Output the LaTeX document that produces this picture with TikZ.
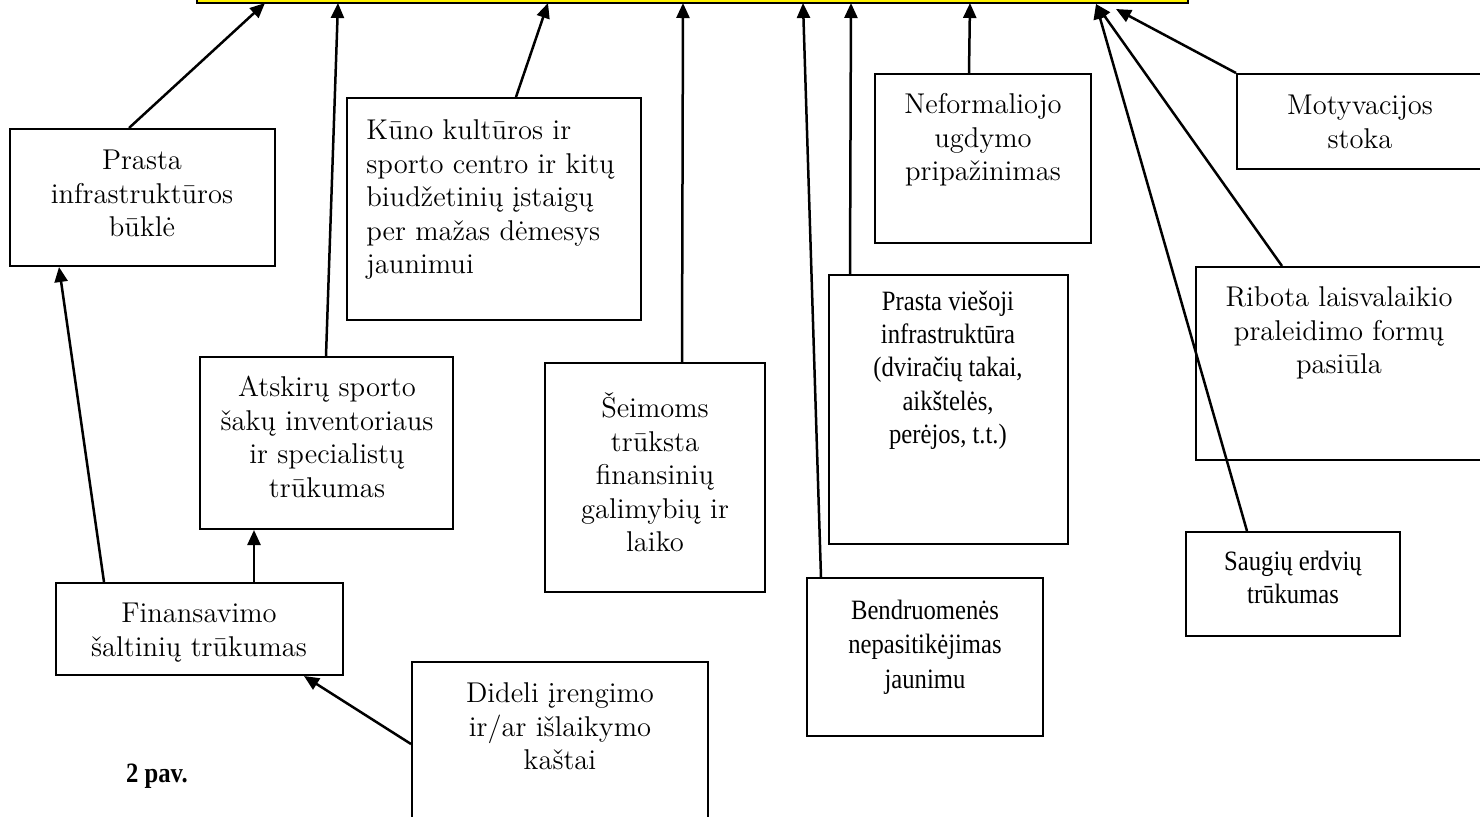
\documentclass[tikz,border=0pt]{standalone}
\usepackage{fontspec}
\newfontfamily\tnr[FakeStretch=0.88]{Liberation Serif}
\usetikzlibrary{arrows.meta,fit,calc}
\newcommand\mystr{\rule{0pt}{14pt}}
\begin{document}
\begin{tikzpicture}[x=0.5pt,y=-0.5pt,
  box/.style={draw,line width=1pt,inner sep=0pt},
  conn/.style={line width=1.25pt,-{Triangle[length=7.5pt,width=6.5pt]}},
  cam/.style={inner sep=0pt,align=center,font=\fontsize{14.3}{16.8}\selectfont},
  tim/.style={inner sep=0pt,align=center,font=\tnr\fontsize{14}{16.6}\selectfont}]
\clip (0,0) rectangle (1480,816);
\fill[white] (0,0) rectangle (1480,816);
% top bar
\node[box,fill=yellow,fit={(197,-20)(1188,3)}] (bar) {};
% boxes
\node[box,fit={(10,129)(275,266)}] (infra) {};
\node[box,fit={(347,98)(641,320)}] (kuno) {};
\node[box,fit={(875,74)(1091,243)}] (nef) {};
\node[box,fit={(1237,74)(1500,169)}] (mot) {};
\node[box,fit={(200,357)(453,529)}] (atsk) {};
\node[box,fit={(545,363)(765,592)}] (seim) {};
\node[box,fit={(829,275)(1068,544)}] (prv) {};
\node[box,fit={(1196,267)(1500,460)}] (rib) {};
\node[box,fit={(1186,532)(1400,636)}] (saug) {};
\node[box,fit={(807,578)(1043,736)}] (bend) {};
\node[box,fit={(56,583)(343,675)}] (fin) {};
\node[box,fit={(412,662)(708,840)}] (did) {};
% texts
\node[cam,anchor=north] (infraT) at (142,141) {\mystr Prasta\\infrastruktūros\\būklė};
\node[cam,align=left,anchor=north west] (kunoT) at (366,111) {\mystr Kūno kultūros ir\\sporto centro ir kitų\\biudžetinių įstaigų\\per mažas dėmesys\\jaunimui};
\node[cam,anchor=north] (nefT) at (983,85) {\mystr Neformaliojo\\ugdymo\\pripažinimas};
\node[cam,anchor=north] (motT) at (1360,86) {\mystr Motyvacijos\\stoka};
\node[cam,anchor=north] (atskT) at (327,368) {\mystr Atskirų sporto\\šakų inventoriaus\\ir specialistų\\trūkumas};
\node[cam,anchor=north] (seimT) at (655,389) {\mystr Šeimoms\\trūksta\\finansinių\\galimybių ir\\laiko};
\node[tim,anchor=north] (prvT) at (948,282) {\mystr Prasta viešoji\\infrastruktūra\\(dviračių takai,\\aikštelės,\\perėjos, t.t.)};
\node[cam,anchor=north] (ribT) at (1339,278) {\mystr Ribota laisvalaikio\\praleidimo formų\\pasiūla};
\node[tim,anchor=north] (saugT) at (1293,542) {\mystr Saugių erdvių\\trūkumas};
\node[tim,anchor=north,font=\tnr\fontsize{14}{17.2}\selectfont] (bendT) at (925,591) {\mystr Bendruomenės\\nepasitikėjimas\\jaunimu};
\node[cam,anchor=north] (finT) at (199,594) {\mystr Finansavimo\\šaltinių trūkumas};
\node[cam,anchor=north] (didT) at (560,674) {\mystr Dideli įrengimo\\ir/ar išlaikymo\\kaštai};
\node[inner sep=0pt,anchor=base,font=\tnr\bfseries\fontsize{14}{16}\selectfont] (cap) at (157,782) {2 pav.};
% arrow tips on the bar
\coordinate (t1) at (265,3);
\coordinate (t2) at (338,3);
\coordinate (t3) at (548,3);
\coordinate (t4) at (683,3);
\coordinate (t5) at (803,3);
\coordinate (t6) at (851,3);
\coordinate (t7) at (970,3);
\coordinate (t8) at (1096,4);
\coordinate (t9) at (1116,9);
% connectors
\draw[conn] ([xshift=60pt]infra.north west) -- (t1);
\draw[conn] ([xshift=63.5pt]atsk.north west) -- (t2);
\draw[conn] ([xshift=85pt]kuno.north west) -- (t3);
\draw[conn] ([xshift=69pt]seim.north west) -- (t4);
\draw[conn] ([xshift=7.5pt]bend.north west) -- (t5);
\draw[conn] ([xshift=11pt]prv.north west) -- (t6);
\draw[conn] ([xshift=47.5pt]nef.north west) -- (t7);
\draw[conn] ([xshift=31pt]saug.north west) -- (t8);
\draw[conn] ([xshift=43.5pt]rib.north west) -- (t8);
\draw[conn] (mot.north west) -- (t9);
\draw[conn] ([xshift=99.5pt]fin.north west) -- ([xshift=27.5pt]atsk.south west);
\draw[conn] ([xshift=24.5pt]fin.north west) -- ([xshift=25pt]infra.south west);
\draw[conn] ([yshift=-41.5pt]did.north west) -- ([xshift=124.5pt]fin.south west);
\end{tikzpicture}
\end{document}
